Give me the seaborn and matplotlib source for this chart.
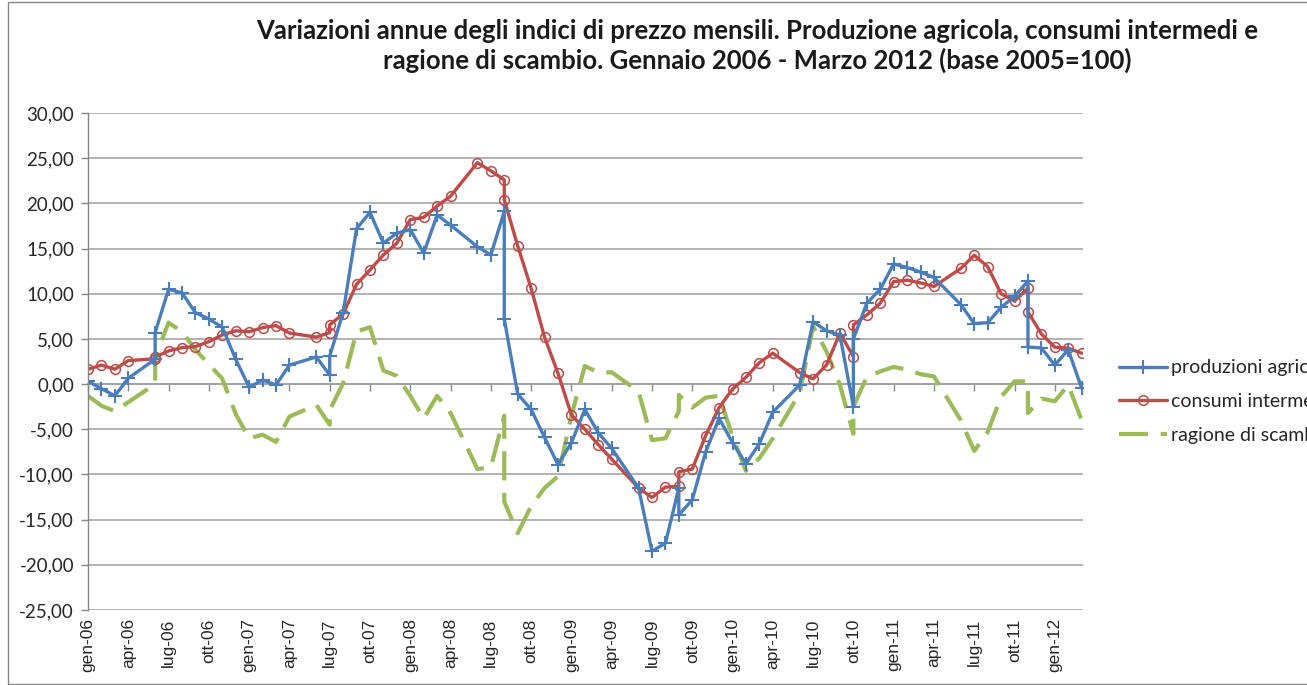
import matplotlib
matplotlib.use("Agg")
import matplotlib.pyplot as plt
import pandas as pd
import seaborn as sns
from matplotlib.ticker import FixedLocator, FuncFormatter
from matplotlib.patches import Rectangle

# Mese sull'asse (0 = gen-06) cosi' come compare nel grafico:
# alcuni mesi sono saltati e altri ripetuti (date del foglio originale)
mese = [0, 1, 2, 3, 5, 5, 6, 7, 8, 9, 10, 11, 12, 13, 14, 15, 17, 18, 18,
        19, 20, 21, 22, 23, 24, 25, 26, 27, 29, 30, 31, 31, 32, 33, 34, 35,
        36, 37, 38, 39, 41, 42, 43, 44, 44, 45, 46, 47, 48, 49, 50, 51, 53,
        54, 55, 56, 57, 57, 58, 59, 60, 61, 62, 63, 65, 66, 67, 68, 69, 70,
        70, 71, 72, 73, 74]

produzioni = [0.3, -0.5, -1.3, 0.65, 2.75, 5.7, 10.5, 10.1, 7.9, 7.2, 6.3,
              2.75, -0.35, 0.45, -0.1, 2.1, 3.0, 1.0, 3.1,
              7.9, 17.2, 19.0, 15.6, 16.7, 17.1, 14.5, 18.7, 17.6, 15.2, 14.3,
              19.1, 7.2, -1.1, -2.8, -5.9, -8.9, -6.5, -2.8, -5.4, -7.1,
              -11.5, -18.5, -17.6, -11.5, -14.5, -12.8, -7.5, -3.8, -6.5,
              -8.8, -6.6, -3.1, -0.1, 6.9, 5.9, 5.4, -2.5, 5.0,
              8.95, 10.5, 13.3, 12.9, 12.4, 11.8, 8.8, 6.7, 6.8, 8.5, 9.7,
              11.4, 4.1, 4.0, 2.1, 3.8, -0.45]

consumi = [1.65, 2.1, 1.65, 2.6, 2.8, 3.0, 3.67, 4.04, 4.15, 4.7, 5.44,
           5.9, 5.8, 6.25, 6.47, 5.65, 5.2, 5.7, 6.55,
           7.77, 11.05, 12.63, 14.3, 15.6, 18.2, 18.45, 19.7, 20.8, 24.5, 23.6,
           22.6, 20.4, 15.3, 10.6, 5.2, 1.2, -3.4, -5.0, -6.7, -8.3,
           -11.5, -12.55, -11.4, -11.3, -9.7, -9.4, -5.7, -2.6, -0.56,
           0.76, 2.38, 3.42, 1.27, 0.58, 2.12, 5.63, 3.05, 6.55,
           7.65, 8.95, 11.35, 11.5, 11.2, 10.8, 12.8, 14.25, 13.0, 10.0, 9.2,
           10.6, 8.0, 5.55, 4.08, 3.97, 3.42]

ragione = [-1.3, -2.4, -3.0, -2.0, 0.0, 3.0, 6.8, 5.8, 3.8, 2.2, 0.6,
           -3.3, -6.0, -5.6, -6.4, -3.6, -2.3, -4.5, -2.9,
           0.1, 5.8, 6.3, 1.5, 0.9, -1.3, -3.8, -1.3, -3.2, -9.4, -9.2,
           -3.5, -13.0, -16.5, -13.5, -11.5, -10.2, -3.5, 2.0, 1.3, 1.3,
           -0.8, -6.2, -6.0, -3.0, -1.2, -2.6, -1.5, -1.3, -5.8,
           -9.6, -8.2, -6.0, -1.0, 6.4, 3.6, -0.1, -5.5, -2.5,
           0.8, 1.4, 1.9, 1.6, 1.1, 0.85, -4.0, -7.4, -5.3, -1.4, 0.3,
           0.3, -3.2, -1.6, -1.9, -0.1, -4.0]

etichette_x = ["gen-06", "apr-06", "lug-06", "ott-06", "gen-07", "apr-07",
               "lug-07", "ott-07", "gen-08", "apr-08", "lug-08", "ott-08",
               "gen-09", "apr-09", "lug-09", "ott-09", "gen-10", "apr-10",
               "lug-10", "ott-10", "gen-11", "apr-11", "lug-11", "ott-11",
               "gen-12"]

df = pd.DataFrame({"mese": mese, "produzioni": produzioni,
                   "consumi": consumi, "ragione": ragione})

sns.set_style("white")
plt.rcParams["font.family"] = ["Lato", "DejaVu Sans"]

fig = plt.figure(figsize=(13.07, 6.85), dpi=100)
ax = fig.add_axes([88 / 1307, 1 - 610 / 685, (1083 - 88) / 1307, (610 - 113) / 685])

blu, rosso, verde = "#4a7ebb", "#be4b48", "#9bbb59"

sns.lineplot(data=df, x="mese", y="ragione", estimator=None, sort=False, ax=ax,
             color=verde, lw=3, linestyle=(0, (7, 3)),
             label="ragione di scambio")
sns.lineplot(data=df, x="mese", y="consumi", estimator=None, sort=False, ax=ax,
             color=rosso, lw=2.4, marker="o", markersize=7,
             markerfacecolor="none", markeredgecolor=rosso, markeredgewidth=1.1,
             label="consumi intermedi")
sns.lineplot(data=df, x="mese", y="produzioni", estimator=None, sort=False, ax=ax,
             color=blu, lw=2.4, marker="+", markersize=10,
             markeredgecolor=blu, markeredgewidth=1.5,
             label="produzioni agricole")

ax.set_xlim(0, 74.1)
ax.set_ylim(-25, 30)
ax.set_xlabel("")
ax.set_ylabel("")

ax.yaxis.set_major_locator(FixedLocator(range(-25, 31, 5)))
ax.yaxis.set_major_formatter(FuncFormatter(lambda v, p: f"{v:.2f}".replace(".", ",")))
ax.yaxis.grid(True, color="#a6a6a6", lw=1.2)
ax.set_axisbelow(True)
ax.tick_params(axis="y", left=True, direction="out", length=5, width=1,
               color="#868686", labelsize=13.5, labelcolor="#262626", pad=5)

ax.set_xticks(range(0, 73, 3))
ax.set_xticklabels(etichette_x, rotation=90, fontsize=12.5, color="#262626",
                   family=["Liberation Sans", "DejaVu Sans"])
ax.tick_params(axis="x", bottom=True, length=0, pad=6)

for s in ["top", "right", "bottom"]:
    ax.spines[s].set_visible(False)
ax.spines["left"].set_color("#868686")
ax.spines["left"].set_linewidth(1)

# asse delle categorie che incrocia lo zero
asse0 = ax.secondary_xaxis(25 / 55)
asse0.set_xticks(range(0, 73, 3))
asse0.set_xticklabels([])
asse0.xaxis.set_ticks_position("bottom")
asse0.tick_params(axis="x", direction="out", length=5, width=1, color="#868686")
for s in asse0.spines.values():
    s.set_color("#868686")
    s.set_linewidth(1.2)

h, l = ax.get_legend_handles_labels()
ordine = [2, 1, 0]
ax.legend([h[i] for i in ordine], [l[i] for i in ordine],
          loc="upper left", bbox_to_anchor=(1101 / 1307, 1 - 342 / 685),
          bbox_transform=fig.transFigure, frameon=False, fontsize=14,
          handlelength=2.5, handletextpad=0.2, labelspacing=0.85,
          labelcolor="#262626")

fig.text(757 / 1307, 1 - 19 / 685,
         "Variazioni annue degli indici di prezzo mensili. Produzione agricola, consumi intermedi e\n"
         "ragione di scambio. Gennaio 2006 - Marzo 2012 (base 2005=100)",
         ha="center", va="top", fontsize=18.5, fontweight="bold",
         color="#1a1a1a", linespacing=1.2)

fig.patches.append(Rectangle((8 / 1307, 0.002), 1.0, 0.995, transform=fig.transFigure,
                             fill=False, ec="#868686", lw=1))

fig.savefig("out.png", dpi=100)
